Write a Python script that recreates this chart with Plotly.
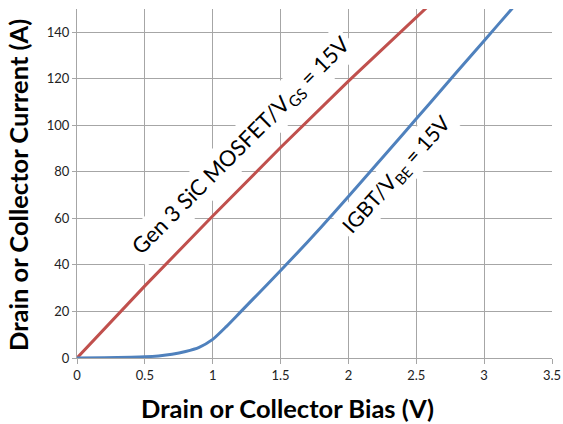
import plotly.graph_objects as go

# MOSFET curve (Gen 3 SiC MOSFET, VGS = 15V)
mos_v = [0, 0.5, 1.0, 1.5, 2.0, 2.5, 2.62]
mos_i = [0, 31, 61, 90.5, 119, 146.5, 153]

# IGBT curve (VBE = 15V)
igbt_v = [0, 0.2, 0.4, 0.5, 0.6, 0.7, 0.8, 0.9, 1.0, 1.1, 1.2, 1.3, 1.4, 1.6, 1.8,
          2.0, 2.2, 2.4, 2.6, 2.8, 3.0, 3.2, 3.24]
igbt_i = [0, 0.1, 0.3, 0.5, 0.9, 1.6, 2.8, 4.6, 8, 13.5, 19.5, 25.5, 31.5, 43.7, 56.3,
          69.4, 82.7, 96.1, 109.5, 123, 136.4, 149.8, 152.5]

x_ticks = [0, 0.5, 1, 1.5, 2, 2.5, 3, 3.5]
x_tick_text = ["0", "0.5", "1", "1.5", "2", "2.5", "3", "3.5"]
y_ticks = [0, 20, 40, 60, 80, 100, 120, 140]

FONT = "Lato, 'Open Sans', sans-serif"
GRID = "#a6a6a6"

fig = go.Figure()
fig.add_trace(go.Scatter(x=mos_v, y=mos_i, mode="lines",
                         line=dict(color="#C0504D", width=3), showlegend=False))
fig.add_trace(go.Scatter(x=igbt_v, y=igbt_i, mode="lines",
                         line=dict(color="#4F81BD", width=3, shape="spline", smoothing=0.6),
                         showlegend=False))

fig.update_layout(
    width=563, height=424,
    margin=dict(l=77, r=11, t=9, b=66),
    paper_bgcolor="white", plot_bgcolor="white",
    font=dict(family=FONT, size=13, color="#222"),
    xaxis=dict(range=[0, 3.5], tickvals=x_ticks, ticktext=x_tick_text,
               showgrid=True, gridcolor=GRID, gridwidth=1,
               showline=True, linecolor=GRID, linewidth=1,
               ticks="outside", ticklen=5, tickcolor=GRID,
               zeroline=False, automargin=False, tickfont=dict(size=13, family=FONT)),
    yaxis=dict(range=[0, 150], tickvals=y_ticks,
               showgrid=True, gridcolor=GRID, gridwidth=1,
               showline=True, linecolor=GRID, linewidth=1,
               ticks="outside", ticklen=4, tickcolor=GRID,
               zeroline=False, automargin=False, tickfont=dict(size=13, family=FONT)),
)

# axis titles as annotations
fig.add_annotation(text="<b>Drain or Collector Bias (V)</b>", xref="paper", yref="paper",
                   x=(287 - 77) / 475, y=-50 / 349, showarrow=False,
                   font=dict(size=25.5, family=FONT, color="black"),
                   xanchor="center", yanchor="middle")
fig.add_annotation(text="<b>Drain or Collector Current (A)</b>", xref="paper", yref="paper",
                   x=-59 / 475, y=(358 - 185) / 349, showarrow=False, textangle=-90,
                   font=dict(size=25.5, family=FONT, color="black"),
                   xanchor="center", yanchor="middle")

# curve labels
fig.add_annotation(text="Gen 3 SiC MOSFET/V<sub>GS</sub> = 15V", x=1.21, y=91,
                   showarrow=False, textangle=-45, bgcolor="white", borderpad=3,
                   font=dict(size=22, family=FONT, color="black"))
fig.add_annotation(text="IGBT/V<sub>BE</sub> = 15V", x=2.36, y=79,
                   showarrow=False, textangle=-48, bgcolor="white", borderpad=3,
                   font=dict(size=21, family=FONT, color="black"))

fig.write_html("out.html", config={"displayModeBar": False},
               post_script="document.body.style.margin='0';")
